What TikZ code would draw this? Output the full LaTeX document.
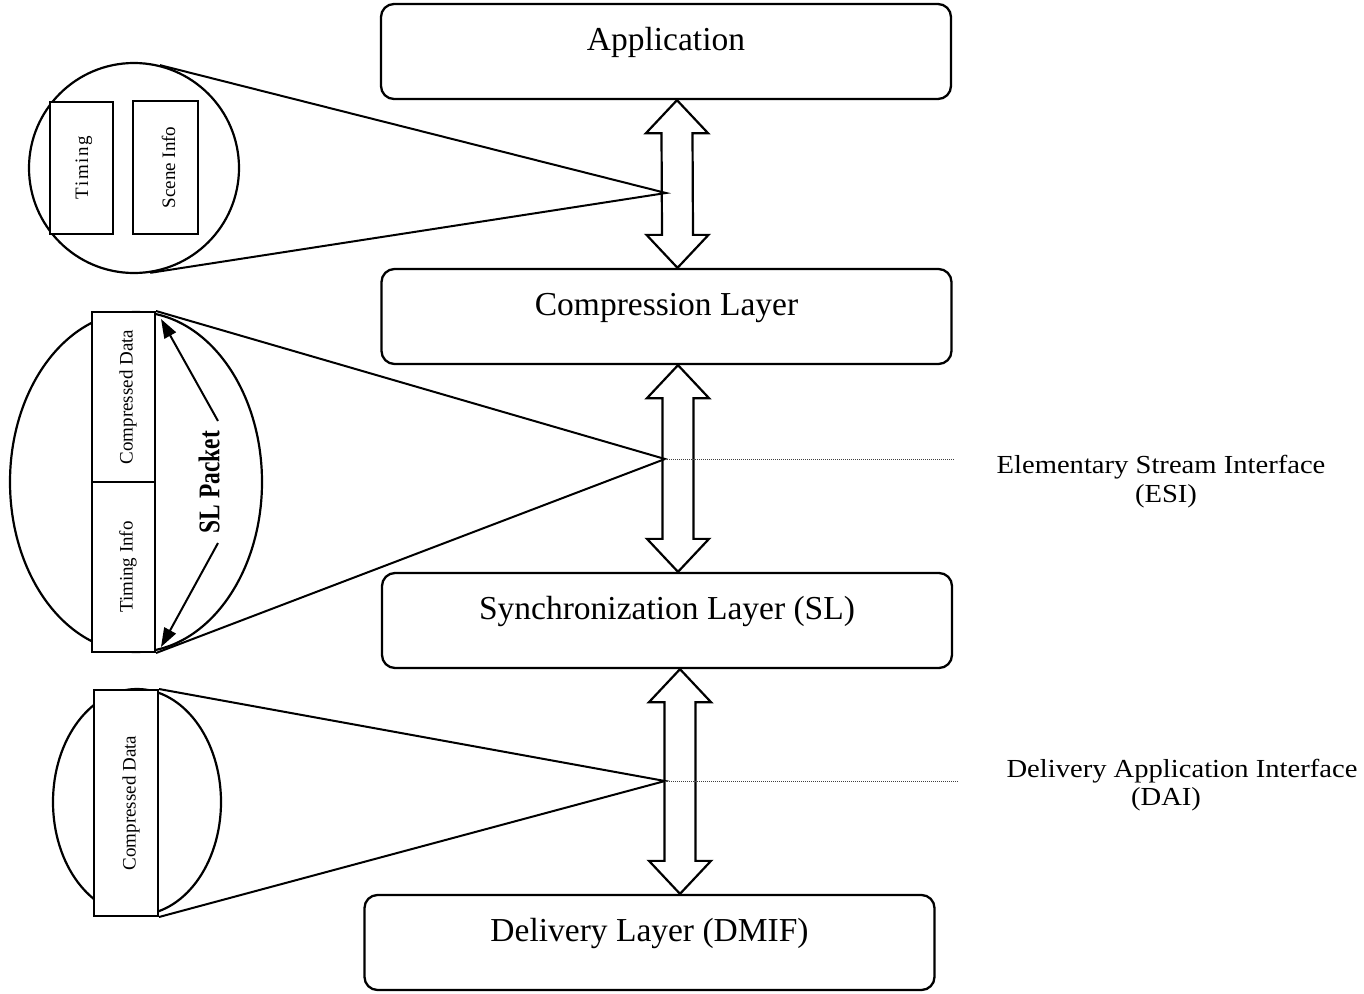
\documentclass[tikz,border=0pt]{standalone}
\usepackage{fontspec}
\setmainfont{Liberation Serif}
\newfontfamily\wideserif[FakeStretch=1.1]{Liberation Serif}
\newfontfamily\narrowserif[FakeStretch=0.78]{Liberation Serif}
\usetikzlibrary{calc,arrows.meta,shapes.geometric}

\begin{document}
\begin{tikzpicture}[x=1pt,y=-1pt,
  layer/.style={draw,line width=2.3pt,rounded corners=13pt,minimum width=570pt,minimum height=95pt,inner sep=0pt},
  layertext/.style={font=\fontsize{33.5}{40}\selectfont,anchor=base,inner sep=0pt},
  iface/.style={font=\wideserif\fontsize{26}{30}\selectfont,anchor=base,inner sep=0pt},
  field/.style={draw,line width=2pt,fill=white,inner sep=0pt},
  fieldtext/.style={font=\fontsize{19}{22}\selectfont,rotate=90,inner sep=0pt},
  lens/.style={draw,line width=2.2pt,inner sep=0pt},
  zoomline/.style={line width=2pt},
  pointer/.style={line width=2pt,-{Triangle[length=19pt,width=13pt]}},
  iflink/.style={densely dotted,line width=1pt,black!75},
  dblarrow/.style={draw,line width=2.2pt,fill=white,line join=miter}
]
\useasboundingbox (0,0) rectangle (1364,993);

% protocol layers
\node[layer] (app)  at (666,51.5)   {};
\node[layer] (comp) at (666.5,316.5) {};
\node[layer] (sync) at (667,620.5)  {};
\node[layer] (dlv)  at (649.5,942.5) {};

\node[layertext] (appt)  at ($(app.center)+(0,-1)$)  {Application};
\node[layertext] (compt) at ($(comp.center)+(0,-1)$) {Compression Layer};
\node[layertext] (synct) at ($(sync.center)+(0,-1)$) {Synchronization Layer (SL)};
\node[layertext] (dlvt)  at ($(dlv.center)+(0,-1)$)  {Delivery Layer (DMIF)};

% end points of the double arrows between the layers
\coordinate (t1) at ($(app.south)+(11,0)$);
\coordinate (b1) at ($(comp.north)+(11,0)$);
\coordinate (t2) at ($(comp.south)+(11.5,0)$);
\coordinate (b2) at ($(sync.north)+(11,0)$);
\coordinate (t3) at ($(sync.south)+(13,0)$);
\coordinate (b3) at ($(dlv.north)+(30.5,0)$);

\foreach \i in {1,2,3}{
  \draw[dblarrow] (t\i) -- ++(31,33) -- ++(-15.5,0) -- ($(b\i)+(15.5,-33)$)
    -- ++(15.5,0) -- (b\i) -- ++(-31,-33) -- ++(15.5,0)
    -- ($(t\i)+(-15.5,33)$) -- ++(-15.5,0) -- cycle;
}

% focal points of the magnified views
\coordinate (ap1) at (666,193);
\coordinate (ap2) at (665,459);
\coordinate (ap3) at (665,781);

% view 1: application data
\node[lens,circle,minimum size=210pt] (c1) at (134,168) {};
\node[field,minimum width=63pt,minimum height=132pt] (tim) at (81.5,168) {};
\node[field,minimum width=65pt,minimum height=133pt] (scn) at (165.5,167.5) {};
\node[fieldtext] (timt) at ($(tim.center)+(2.5,0)$) {T\kern1.5pt i\kern1.5pt m\kern1.5pt i\kern1.5pt n\kern1.5pt g};
\node[fieldtext] (scnt) at ($(scn.center)+(3,0)$) {Scene Info};
\draw[zoomline] (tangent cs:node=c1,point={(ap1)},solution=1) -- (ap1)
  -- (tangent cs:node=c1,point={(ap1)},solution=2);

% view 2: SL packet
\node[lens,ellipse,minimum width=252pt,minimum height=340pt] (e2) at (136,482) {};
\node[field,minimum width=63pt,minimum height=340pt] (p2) at (123.5,482) {};
\draw[line width=2pt] (p2.west) -- (p2.east);
\node[fieldtext] (cd2) at (128,397) {Compressed Data};
\node[fieldtext] (ti2) at (128,567) {Timing Info};
\draw[zoomline] (p2.north east) -- (ap2) -- (p2.south east);
\node[font=\narrowserif\bfseries\fontsize{30}{32}\selectfont,rotate=90,inner sep=0pt] (slp) at (209,482) {SL Packet};
\draw[pointer] ($(slp.center)+(9,-61)$) -- ($(p2.north east)+(5,8)$);
\draw[pointer] ($(slp.center)+(9,61)$) -- ($(p2.south east)+(5,-6)$);

% view 3: delivered data
\node[lens,ellipse,minimum width=168pt,minimum height=226pt] (e3) at (137,802) {};
\node[field,minimum width=64pt,minimum height=226pt] (p3) at (126,803) {};
\node[fieldtext] (cd3) at (131,803) {Compressed Data};
\draw[zoomline] (p3.north east) -- (ap3) -- (p3.south east);

% interfaces
\coordinate (esiend) at (955,459);
\coordinate (daiend) at (958,781);
\draw[iflink] (ap2) -- (esiend);
\draw[iflink] (ap3) -- (daiend);
\node[iface] (esi1) at (1161,473) {Elementary Stream Interface};
\node[iface] (esi2) at (1166,502) {(ESI)};
\node[iface] (dai1) at (1182,777) {Delivery Application Interface};
\node[iface] (dai2) at (1166,805) {(DAI)};
\end{tikzpicture}
\end{document}
